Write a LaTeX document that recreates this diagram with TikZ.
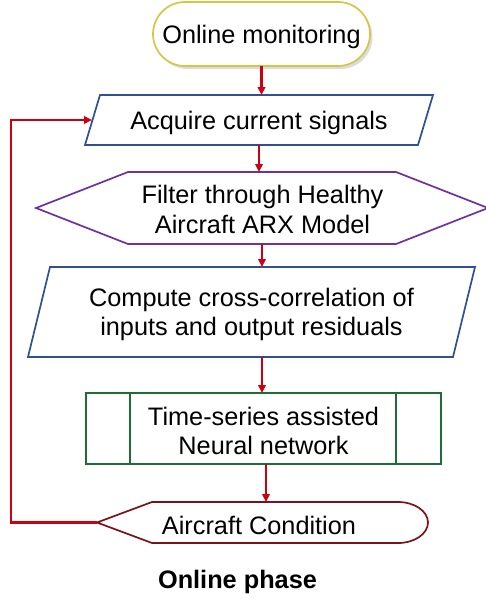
\documentclass[tikz,border=0pt]{standalone}
\usepackage{fontspec}
\setmainfont{Liberation Sans}
\usetikzlibrary{arrows.meta,calc}

\definecolor{flowred}{RGB}{204,0,17}
\definecolor{termedge}{RGB}{214,198,70}
\definecolor{ioblue}{RGB}{47,82,143}
\definecolor{prepurple}{RGB}{112,48,160}
\definecolor{procgreen}{RGB}{28,110,52}
\definecolor{dispred}{RGB}{120,20,25}

\begin{document}
\begin{tikzpicture}[x=1pt,y=-1pt,
  box/.style={inner sep=0pt, outer sep=0pt, align=center,
    font=\fontsize{25.3}{29.5}\selectfont},
  label/.style={box, yshift=-2.5pt},
  flow/.style={draw=flowred, line width=2.4pt,
    -{Triangle[length=8pt,width=7.5pt]}},
  edge/.style={line width=1.7pt, line join=miter, fill=white}]

\useasboundingbox (0,0) rectangle (486,600);

% bounding boxes of the flowchart blocks
\node[box, minimum width=217pt, minimum height=64pt] (start) at (261.5,34) {};
\node[box, minimum width=348pt, minimum height=50pt] (acq) at (259,120) {};
\node[box, minimum width=452pt, minimum height=72pt] (filt) at (262,208) {};
\node[box, minimum width=447pt, minimum height=90pt] (comp) at (251.5,312) {};
\node[box, minimum width=355pt, minimum height=71pt] (nn) at (263.5,428.5) {};
\node[box, minimum width=331pt, minimum height=41pt] (cond) at (262.5,522.5) {};

% terminal: Online monitoring
\fill[black!30, opacity=0.45, rounded corners=32pt]
  ($(start.north west)+(2.5,3)$) rectangle ($(start.south east)+(2.5,3)$);
\draw[edge, draw=termedge, rounded corners=32pt]
  (start.north west) rectangle (start.south east);

% input/output: Acquire current signals
\draw[edge, draw=ioblue]
  ($(acq.north west)+(15,0)$) -- (acq.north east)
  -- ($(acq.south east)+(-15,0)$) -- (acq.south west) -- cycle;

% preparation: ARX filter
\draw[edge, draw=prepurple]
  (filt.west) -- ($(filt.north west)+(92,0)$) -- ($(filt.north east)+(-92,0)$)
  -- (filt.east) -- ($(filt.south east)+(-92,0)$)
  -- ($(filt.south west)+(92,0)$) -- cycle;

% input/output: cross-correlation
\draw[edge, draw=ioblue]
  ($(comp.north west)+(22,0)$) -- (comp.north east)
  -- ($(comp.south east)+(-22,0)$) -- (comp.south west) -- cycle;

% predefined process: neural network
\draw[edge, draw=procgreen] (nn.north west) rectangle (nn.south east);
\draw[line width=1.7pt, procgreen]
  ($(nn.north west)+(44,0)$) -- ($(nn.south west)+(44,0)$)
  ($(nn.north east)+(-45,0)$) -- ($(nn.south east)+(-45,0)$);

% display: Aircraft Condition
\draw[edge, draw=dispred]
  (cond.west) -- ($(cond.north west)+(55,0)$) -- ($(cond.north east)+(-30,0)$)
  arc[start angle=90, end angle=-90, x radius=30pt, y radius=20.5pt]
  -- ($(cond.south west)+(55,0)$) -- cycle;

% texts
\node[label] (starttext) at (start.center) {Online monitoring};
\node[label] (acqtext) at (acq.center) {Acquire current signals};
\node[label] (filttext) at (262.5,207) {Filter through Healthy\\Aircraft ARX Model};
\node[label] (comptext) at (comp.center) {Compute cross-correlation of\\inputs and output residuals};
\node[label] (nntext) at (nn.center) {Time-series assisted\\Neural network};
\node[label] (condtext) at (259,522.5) {Aircraft Condition};
\node[box, font=\fontsize{25.3}{29.5}\selectfont\bfseries] (phase) at (237.5,582) {Online phase};

% connectors
\draw[flow] (start.south) -- (start.south |- acq.north);
\draw[flow] (acq.south) -- (acq.south |- filt.north);
\draw[flow] (filt.south) -- (filt.south |- comp.north);
\draw[flow] ([xshift=10.5pt]comp.south) -- ([xshift=10.5pt]comp.south |- nn.north);
\draw[flow] ([xshift=2.5pt]nn.south) -- ([xshift=2.5pt]nn.south |- cond.north);

% feedback loop
\coordinate (acqin) at ($(acq.west)+(7,0)$);
\coordinate (loopx) at (11,0);
\draw[flow] (cond.west) -- (cond.west -| loopx) |- (acqin);

\end{tikzpicture}
\end{document}
